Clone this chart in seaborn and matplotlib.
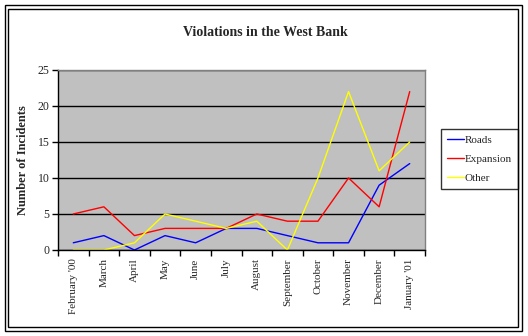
import matplotlib
matplotlib.use("Agg")
import matplotlib.pyplot as plt
from matplotlib.patches import Rectangle
import seaborn as sns
import pandas as pd

months = ["February '00", "March", "April", "May", "June", "July", "August",
          "September", "October", "November", "December", "January '01"]
roads = [1, 2, 0, 2, 1, 3, 3, 2, 1, 1, 9, 12]
expansion = [5, 6, 2, 3, 3, 3, 5, 4, 4, 10, 6, 22]
other = [0, 0, 1, 5, 4, 3, 4, 0, 10, 22, 11, 15]
series_names = ["Roads", "Expansion", "Other"]
colors = ["#0000FF", "#FF0000", "#FFFF00"]

df = pd.DataFrame({
    "pos": list(range(len(months))) * 3,
    "value": roads + expansion + other,
    "series": [s for s in series_names for _ in months],
})

sns.set_theme(style="white")
plt.rcParams["font.family"] = ["Liberation Serif", "DejaVu Serif"]

W, H = 528, 336
fig = plt.figure(figsize=(W / 100, H / 100), dpi=100)
fig.patch.set_facecolor("white")

# double frame around the chart
fig.patches.append(Rectangle((5 / W, 1 - 331 / H), 517 / W, 326 / H,
                             transform=fig.transFigure, fill=False,
                             edgecolor="black", linewidth=1.0))
fig.patches.append(Rectangle((8 / W, 1 - 327 / H), 510 / W, 318 / H,
                             transform=fig.transFigure, fill=False,
                             edgecolor="black", linewidth=1.0))

ax = fig.add_axes([58 / W, 1 - 250 / H, (425 - 58) / W, (250 - 70) / H])
ax.set_facecolor("#C0C0C0")

sns.lineplot(data=df, x="pos", y="value", hue="series", palette=colors,
             hue_order=series_names, linewidth=1.0, ax=ax, legend=True)

ax.set_xlim(-0.5, len(months) - 0.5)
ax.set_ylim(0, 25)
ax.set_yticks([0, 5, 10, 15, 20, 25])
ax.yaxis.grid(True, color="black", linewidth=1.0)
ax.set_axisbelow(True)

ax.set_xticks(range(len(months)))
ax.set_xticklabels(months, rotation=90, fontsize=8)
ax.set_xticks([i - 0.5 for i in range(len(months) + 1)], minor=True)
ax.tick_params(axis="x", which="major", length=0, pad=6)
ax.tick_params(axis="x", which="minor", length=4, width=1, color="black",
               direction="out", bottom=True)
ax.tick_params(axis="y", length=4, width=1, color="black", direction="out",
               left=True, labelsize=8.5, pad=2)

for side in ("top", "right"):
    ax.spines[side].set_color("#808080")
    ax.spines[side].set_linewidth(1.0)
for side in ("left", "bottom"):
    ax.spines[side].set_color("black")
    ax.spines[side].set_linewidth(1.0)

ax.set_xlabel("")
ax.set_ylabel("Number of Incidents", fontsize=9, fontweight="bold", labelpad=6)

fig.text(265 / W, 1 - 32 / H, "Violations in the West Bank", ha="center",
         va="center", fontsize=10, fontweight="bold")

leg = ax.legend(loc="upper left", bbox_to_anchor=(441 / W, 1 - 129 / H),
                bbox_transform=fig.transFigure, frameon=True, fancybox=False,
                fontsize=8, handlelength=1.5, handletextpad=0.1,
                borderpad=0.55, labelspacing=0.85, borderaxespad=0)
leg.get_frame().set_edgecolor("black")
leg.get_frame().set_linewidth(1.0)
leg.get_frame().set_facecolor("white")
leg._legend_box.sep = 0

fig.savefig("out.png", dpi=100)
